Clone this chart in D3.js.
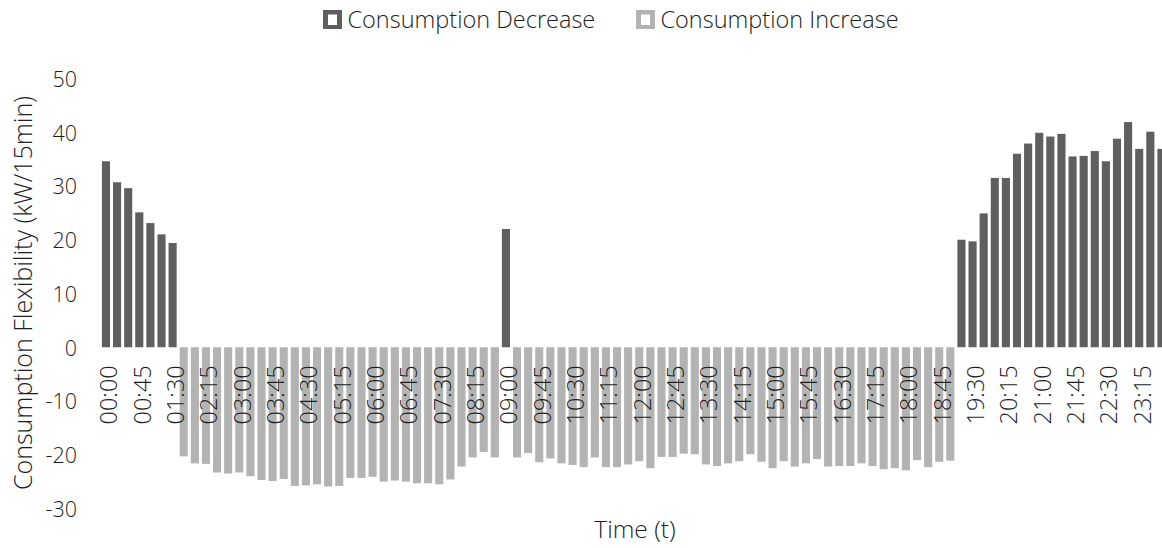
<!DOCTYPE html>
<html>
<head>
<meta charset="utf-8">
<script src="https://cdn.jsdelivr.net/npm/d3@7"></script>
<style>
  html, body { margin: 0; padding: 0; background: #fff; }
  svg { display: block; }
  text { font-family: "Open Sans", "Noto Sans", "DejaVu Sans", sans-serif; font-weight: 300; fill: #1e1e1e; }
</style>
</head>
<body>
<svg id="chart" width="1162" height="548"></svg>
<script>
// 15-minute time slots over one day
const timeSlots = [
  "00:00","00:15","00:30","00:45","01:00","01:15","01:30","01:45",
  "02:00","02:15","02:30","02:45","03:00","03:15","03:30","03:45",
  "04:00","04:15","04:30","04:45","05:00","05:15","05:30","05:45",
  "06:00","06:15","06:30","06:45","07:00","07:15","07:30","07:45",
  "08:00","08:15","08:30","08:45","09:00","09:15","09:30","09:45",
  "10:00","10:15","10:30","10:45","11:00","11:15","11:30","11:45",
  "12:00","12:15","12:30","12:45","13:00","13:15","13:30","13:45",
  "14:00","14:15","14:30","14:45","15:00","15:15","15:30","15:45",
  "16:00","16:15","16:30","16:45","17:00","17:15","17:30","17:45",
  "18:00","18:15","18:30","18:45","19:00","19:15","19:30","19:45",
  "20:00","20:15","20:30","20:45","21:00","21:15","21:30","21:45",
  "22:00","22:15","22:30","22:45","23:00","23:15","23:30","23:45"
];

// Consumption decrease (kW/15min), null where the slot offers an increase instead
const decreaseValues = [
  34.6, 30.7, 29.6, 25.1, 23.1, 21.0, 19.4, null,
  null, null, null, null, null, null, null, null,
  null, null, null, null, null, null, null, null,
  null, null, null, null, null, null, null, null,
  null, null, null, null, 22.0, null, null, null,
  null, null, null, null, null, null, null, null,
  null, null, null, null, null, null, null, null,
  null, null, null, null, null, null, null, null,
  null, null, null, null, null, null, null, null,
  null, null, null, null, null, 20.0, 19.7, 24.9,
  31.5, 31.5, 36.0, 37.9, 39.9, 39.2, 39.7, 35.5,
  35.6, 36.5, 34.6, 38.8, 41.9, 36.9, 40.1, 36.9
];

// Consumption increase (kW/15min, negative), null where the slot offers a decrease
const increaseValues = [
  null, null, null, null, null, null, null, -20.3,
  -21.6, -21.7, -23.3, -23.5, -23.3, -24.0, -24.7, -24.9,
  -24.5, -25.8, -25.7, -25.5, -25.9, -25.8, -24.3, -24.3,
  -24.1, -25.0, -24.8, -25.0, -25.3, -25.3, -25.5, -24.6,
  -22.2, -20.5, -19.5, -20.5, null, -20.5, -19.7, -21.4,
  -20.7, -21.6, -21.9, -22.3, -20.5, -22.3, -22.3, -21.8,
  -21.2, -22.5, -20.4, -20.4, -19.8, -19.9, -21.8, -22.1,
  -21.6, -21.2, -19.9, -21.3, -22.5, -21.2, -22.2, -21.6,
  -20.8, -22.2, -22.1, -22.1, -21.6, -22.1, -22.7, -22.5,
  -22.9, -21.0, -22.3, -21.3, -21.1, null, null, null,
  null, null, null, null, null, null, null, null,
  null, null, null, null, null, null, null, null
];

// Labelled slots on the time axis (every 45 minutes)
const timeTicks = [
  "00:00","00:45","01:30","02:15","03:00","03:45","04:30","05:15",
  "06:00","06:45","07:30","08:15","09:00","09:45","10:30","11:15",
  "12:00","12:45","13:30","14:15","15:00","15:45","16:30","17:15",
  "18:00","18:45","19:30","20:15","21:00","21:45","22:30","23:15"
];
const valueTicks = [50, 40, 30, 20, 10, 0, -10, -20, -30];

const seriesNames = ["Consumption Decrease", "Consumption Increase"];
const seriesColors = ["#5f5f5f", "#b3b3b3"];

const svg = d3.select("#chart");

const x = d3.scaleBand()
  .domain(timeSlots)
  .range([100.4, 1167])
  .paddingInner(0.27)
  .paddingOuter(0.135);

const y = d3.scaleLinear()
  .domain([-30, 50])
  .range([508.5, 78.5]);

// Bars
const series = [decreaseValues, increaseValues];
series.forEach((vals, si) => {
  const pts = timeSlots.map((t, i) => ({ t, v: vals[i] })).filter(d => d.v !== null);
  svg.append("g")
    .selectAll("rect")
    .data(pts)
    .join("rect")
    .attr("x", d => x(d.t))
    .attr("width", x.bandwidth())
    .attr("y", d => y(Math.max(0, d.v)))
    .attr("height", d => Math.abs(y(d.v) - y(0)))
    .attr("fill", seriesColors[si]);
});

// Value axis labels (plain hyphen for negatives)
const yAxis = d3.axisLeft(y).tickValues(valueTicks).tickSize(0).tickPadding(0)
  .tickFormat(d => String(d));
const yG = svg.append("g").attr("transform", "translate(77,0)").call(yAxis);
yG.select(".domain").remove();
yG.selectAll("text")
  .attr("font-size", 21.5)
  .attr("font-family", null)
  .attr("fill", null)
  .attr("dy", "0.36em");

// Time axis labels, rotated, hanging below the zero line
const xAxis = d3.axisBottom(x).tickValues(timeTicks).tickSize(0).tickPadding(0);
const xG = svg.append("g").attr("transform", `translate(0,${y(0)})`).call(xAxis);
xG.select(".domain").remove();
xG.selectAll("text")
  .attr("font-size", 23.5)
  .attr("font-family", null)
  .attr("fill", null)
  .attr("text-anchor", "end")
  .attr("transform", "translate(3,18) rotate(-90)")
  .attr("x", 0)
  .attr("y", 0)
  .attr("dy", "0.36em");

// Axis titles
svg.append("text")
  .attr("transform", "translate(23,293) rotate(-90)")
  .attr("text-anchor", "middle")
  .attr("dy", "0.36em")
  .attr("font-size", 25)
  .text("Consumption Flexibility (kW/15min)");

svg.append("text")
  .attr("x", 635)
  .attr("y", 529)
  .attr("text-anchor", "middle")
  .attr("dy", "0.36em")
  .attr("font-size", 24.5)
  .text("Time (t)");

// Legend
const legendX = [323, 636];
const legend = svg.append("g");
seriesNames.forEach((name, i) => {
  const g = legend.append("g").attr("transform", `translate(${legendX[i]},10)`);
  g.append("rect").attr("width", 19).attr("height", 19).attr("fill", seriesColors[i]);
  g.append("rect").attr("x", 5).attr("y", 4.5).attr("width", 9).attr("height", 10.5).attr("fill", "#fff");
  g.append("text")
    .attr("x", 24.5)
    .attr("y", 10)
    .attr("dy", "0.36em")
    .attr("font-size", 23.5)
    .text(name);
});
</script>
</body>
</html>
